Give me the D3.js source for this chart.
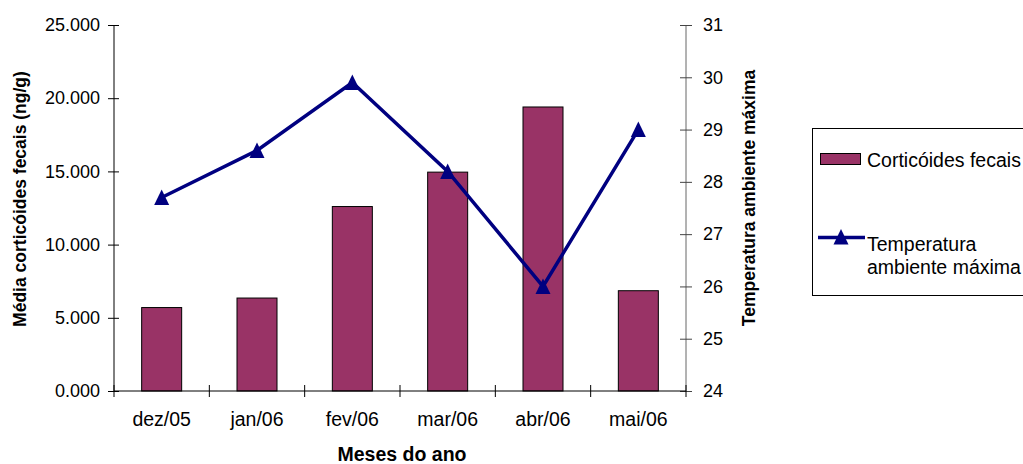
<!DOCTYPE html>
<html>
<head>
<meta charset="utf-8">
<script src="https://cdn.jsdelivr.net/npm/d3@7"></script>
<style>
  html, body { margin: 0; padding: 0; background: #fff; }
  svg { display: block; font-family: "Liberation Sans", Arial, sans-serif; }
</style>
</head>
<body>
<svg id="chart" width="1023" height="464"></svg>
<script>
// Monthly fecal corticoid means (bars, left axis) and max ambient temperature (line, right axis)
const months = ["dez/05", "jan/06", "fev/06", "mar/06", "abr/06", "mai/06"];
const corticoides = [5700, 6350, 12600, 14950, 19400, 6850];
const temperatura = [27.7, 28.6, 29.9, 28.2, 26.0, 29.0];

const leftTicks = [0, 5000, 10000, 15000, 20000, 25000];
const leftTickLabels = ["0.000", "5.000", "10.000", "15.000", "20.000", "25.000"];
const rightTicks = [24, 25, 26, 27, 28, 29, 30, 31];

const legendLabels = ["Corticóides fecais", ["Temperatura", "ambiente máxima"]];

const barColor = "#993366";
const lineColor = "#000080";

const svg = d3.select("#chart");
const plot = { left: 114, right: 686, top: 25, bottom: 391 };

const xStep = d3.scaleBand().domain(months).range([plot.left, plot.right]);
const yL = d3.scaleLinear().domain([0, 25000]).range([plot.bottom, plot.top]);
const yR = d3.scaleLinear().domain([24, 31]).range([plot.bottom, plot.top]);
const cx = m => xStep(m) + xStep.bandwidth() / 2;

// Bars
svg.append("g").selectAll("rect")
  .data(corticoides)
  .join("rect")
  .attr("x", (d, i) => cx(months[i]) - 20)
  .attr("width", 40)
  .attr("y", d => yL(d))
  .attr("height", d => yL(0) - yL(d))
  .attr("fill", barColor)
  .attr("stroke", "#000")
  .attr("stroke-width", 1);

// Left axis
const gL = svg.append("g").attr("transform", `translate(${plot.left},0)`)
  .call(d3.axisLeft(yL).tickValues(leftTicks).tickFormat((d, i) => leftTickLabels[i]).tickSize(6).tickPadding(8));
gL.selectAll(".tick line").attr("x2", -6).attr("x1", 5);
gL.select(".domain").attr("d", `M0,${plot.top}V${plot.bottom}`);
gL.selectAll(".domain, .tick line").attr("stroke", "#000");

// Right axis
const gR = svg.append("g").attr("transform", `translate(${plot.right},0)`)
  .call(d3.axisRight(yR).tickValues(rightTicks).tickFormat(d3.format("d")).tickSize(6).tickPadding(11));
gR.selectAll(".tick line").attr("x1", -6).attr("x2", 6).attr("stroke", "#444");
gR.select(".domain").attr("d", `M0,${plot.top}V${plot.bottom}`).attr("stroke", "#666");

svg.selectAll(".tick text").attr("font-size", 18).attr("fill", "#000");

// Bottom axis: ticks at category boundaries, labels at centers
const gB = svg.append("g").attr("transform", `translate(0,${plot.bottom})`);
gB.append("line").attr("x1", plot.left).attr("x2", plot.right).attr("stroke", "#000");
const bounds = months.map(m => xStep(m)).concat([plot.right]);
gB.selectAll("line.tk").data(bounds).join("line").attr("class", "tk")
  .attr("x1", d => d).attr("x2", d => d).attr("y1", -6).attr("y2", 6).attr("stroke", "#000");
gB.selectAll("text").data(months).join("text")
  .attr("x", d => cx(d))
  .attr("y", 35)
  .attr("text-anchor", "middle")
  .attr("font-size", 19.5)
  .attr("fill", "#000")
  .text(d => d);

// Temperature line
const line = d3.line()
  .x((d, i) => cx(months[i]))
  .y(d => yR(d));
svg.append("path").datum(temperatura)
  .attr("d", line)
  .attr("fill", "none")
  .attr("stroke", lineColor)
  .attr("stroke-width", 3.5)
  .attr("stroke-linejoin", "miter");

const tri = "M0,-8L7.5,7.5L-7.5,7.5Z";
svg.append("g").selectAll("path")
  .data(temperatura)
  .join("path")
  .attr("transform", (d, i) => `translate(${cx(months[i])},${yR(d)})`)
  .attr("d", tri)
  .attr("fill", lineColor);

// Axis titles
svg.append("text")
  .attr("transform", "translate(26,199) rotate(-90)")
  .attr("text-anchor", "middle")
  .attr("font-size", 17.5).attr("font-weight", "bold")
  .text("Média corticóides fecais (ng/g)");

svg.append("text")
  .attr("transform", "translate(755,198) rotate(-90)")
  .attr("text-anchor", "middle")
  .attr("font-size", 17.5).attr("font-weight", "bold")
  .text("Temperatura ambiente máxima");

svg.append("text")
  .attr("x", (plot.left + plot.right) / 2 + 2)
  .attr("y", 461)
  .attr("text-anchor", "middle")
  .attr("font-size", 19.5).attr("font-weight", "bold")
  .text("Meses do ano");

// Legend
const lg = svg.append("g");
lg.append("rect").attr("x", 812.5).attr("y", 128.5).attr("width", 230).attr("height", 167)
  .attr("fill", "#fff").attr("stroke", "#000").attr("stroke-width", 1);
lg.append("rect").attr("x", 820.5).attr("y", 153.5).attr("width", 40).attr("height", 11)
  .attr("fill", barColor).attr("stroke", "#000");
lg.append("text").attr("x", 867).attr("y", 166.5).attr("font-size", 19.5).text(legendLabels[0]);
lg.append("line").attr("x1", 818).attr("x2", 865).attr("y1", 237.5).attr("y2", 237.5)
  .attr("stroke", lineColor).attr("stroke-width", 3.5);
lg.append("path").attr("transform", "translate(841,237)").attr("d", tri).attr("fill", lineColor);
lg.append("text").attr("x", 867).attr("y", 251).attr("font-size", 19.5).text(legendLabels[1][0]);
lg.append("text").attr("x", 867).attr("y", 274).attr("font-size", 19.5).text(legendLabels[1][1]);
</script>
</body>
</html>
